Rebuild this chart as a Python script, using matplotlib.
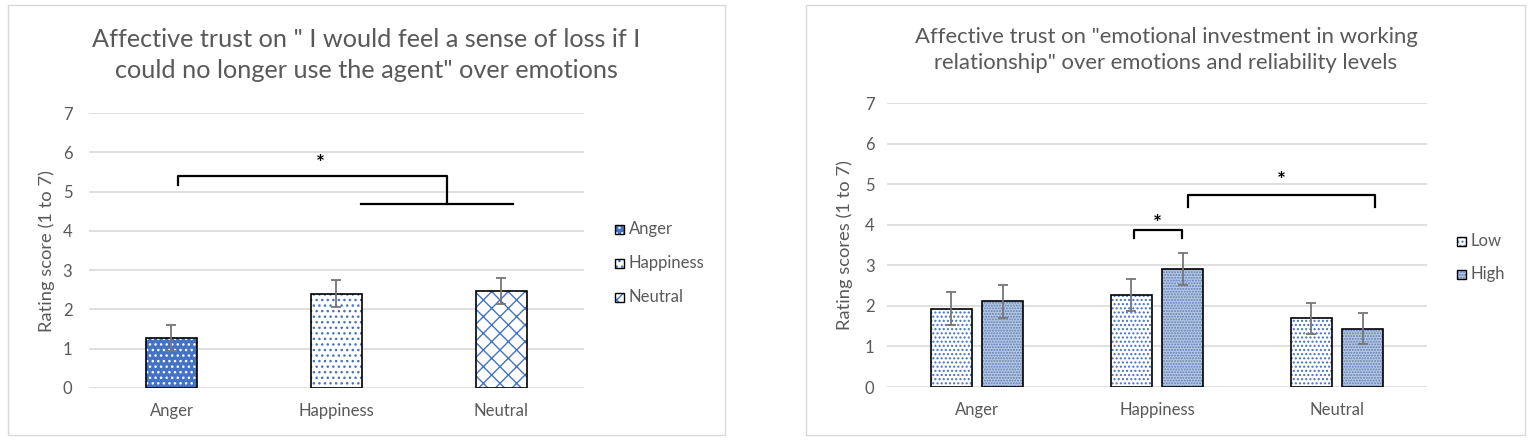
import matplotlib
matplotlib.use("Agg")
import matplotlib.pyplot as plt
import matplotlib.patches as mpatches
import numpy as np

plt.rcParams["font.family"] = ["Lato", "DejaVu Sans"]
plt.rcParams["hatch.linewidth"] = 1.0

# --- data ---
emotions = ["Anger", "Happiness", "Neutral"]

loss_means = [1.28, 2.40, 2.47]
loss_err = [0.33, 0.35, 0.34]

levels = ["Low", "High"]
invest_low = [1.93, 2.27, 1.69]
invest_low_err = [0.41, 0.39, 0.38]
invest_high = [2.11, 2.91, 1.44]
invest_high_err = [0.41, 0.39, 0.39]

# significance brackets (x in category units, y in rating units)
loss_bracket_top = [0.04, 1.67, 5.39]        # x0, x1, y
loss_bracket_drop = [5.17, 4.68]             # left end, right end
loss_bracket_low = [1.15, 2.07, 4.68]        # x0, x1, y
loss_star = [0.90, 5.70]

invest_brackets = [[0.87, 1.14, 3.88, 3.68], [1.17, 2.21, 4.74, 4.44]]
invest_stars = [[1.0, 4.02], [1.69, 5.08]]

TITLE_L = 'Affective trust on " I would feel a sense of loss if I\ncould no longer use the agent" over emotions'
TITLE_R = 'Affective trust on "emotional investment in working\nrelationship" over emotions and reliability levels'

TXT = "#595959"
GRID = "#D9D9D9"
BLUE = "#4472C4"
ERR = "#767676"
FS = 12

W, H = 1535, 443
fig = plt.figure(figsize=(W / 100, H / 100), dpi=100)


def fx(px):
    return px / W


def fy(py):
    return 1 - py / H


# panel frames
for x0, x1 in [(8, 725), (806, 1525)]:
    fig.patches.append(mpatches.Rectangle(
        (fx(x0), fy(435)), fx(x1 - x0), (435 - 5) / H, transform=fig.transFigure,
        facecolor="none", edgecolor=GRID, linewidth=1.0, zorder=-1))


def style_axes(ax, ylabel, tickpad, labelx):
    ax.set_ylim(0, 7)
    ax.set_yticks(range(8))
    ax.yaxis.grid(True, color=GRID, linewidth=1.2)
    ax.set_axisbelow(True)
    for s in ax.spines.values():
        s.set_visible(False)
    ax.tick_params(axis="both", length=0, colors=TXT, labelsize=FS)
    ax.tick_params(axis="y", pad=tickpad)
    ax.tick_params(axis="x", pad=11)
    ax.set_ylabel(ylabel, color=TXT, fontsize=13.2)
    ax.yaxis.set_label_coords(labelx, 0.5)
    ax.set_facecolor("none")


def hatched_bar(ax, x, h, width, face, hatch, hcolor):
    ax.bar(x, h, width, color=face, edgecolor=hcolor, hatch=hatch,
           linewidth=0, zorder=2)
    ax.bar(x, h, width, color="none", edgecolor="black", linewidth=1.2,
           zorder=3)


def legend_entry(px, py, face, hatch, hc, label):
    box = (fx(px), fy(py + 4.5))
    fig.patches.append(mpatches.Rectangle(
        box, fx(9), 9 / H, transform=fig.transFigure,
        facecolor=face, edgecolor=hc, hatch=hatch, linewidth=0, zorder=3))
    fig.patches.append(mpatches.Rectangle(
        box, fx(9), 9 / H, transform=fig.transFigure,
        facecolor="none", edgecolor="black", linewidth=1.0, zorder=4))
    fig.text(fx(px + 14), fy(py), label, ha="left", va="center",
             fontsize=FS, color=TXT)


# --- left chart ---
axL = fig.add_axes([fx(89), fy(388), fx(584 - 89), (388 - 113) / H])
x = np.arange(len(emotions))
left_styles = [(BLUE, "...", "white"), ("white", "...", BLUE), ("white", "xx", BLUE)]
for i, (face, hatch, hc) in enumerate(left_styles):
    hatched_bar(axL, x[i], loss_means[i], 0.315, face, hatch, hc)
axL.errorbar(x, loss_means, yerr=loss_err, fmt="none", ecolor=ERR,
             elinewidth=1.3, capsize=3.3, capthick=1.3, zorder=4)
axL.set_xlim(-0.5, 2.5)
axL.set_xticks(x, emotions)
style_axes(axL, "Rating score (1 to 7)", 12, -0.069)

bx0, bx1, by = loss_bracket_top
axL.plot([bx0, bx0, bx1, bx1], [loss_bracket_drop[0], by, by, loss_bracket_drop[1]],
         color="black", linewidth=1.6, zorder=5, clip_on=False)
lx0, lx1, ly = loss_bracket_low
axL.plot([lx0, lx1], [ly, ly], color="black", linewidth=1.6, zorder=5)
axL.text(loss_star[0], loss_star[1], "*", ha="center", va="center",
         fontsize=15, fontweight="bold", color="black")

fig.text(fx(366), fy(55), TITLE_L, ha="center", va="center", fontsize=18.2,
         color=TXT, linespacing=1.4)

for i, (face, hatch, hc) in enumerate(left_styles):
    legend_entry(615, [229, 263, 297][i], face, hatch, hc, emotions[i])

# --- right chart ---
axR = fig.add_axes([fx(887), fy(387), fx(1427 - 887), (387 - 103) / H])
off = 0.142
bw = 0.223
right_styles = [("white", "....", BLUE), ("#B9C9E2", "......", "#5E7FB8")]
for i in range(len(emotions)):
    hatched_bar(axR, x[i] - off, invest_low[i], bw, *right_styles[0])
    hatched_bar(axR, x[i] + off, invest_high[i], bw, *right_styles[1])
axR.errorbar(x - off, invest_low, yerr=invest_low_err, fmt="none", ecolor=ERR,
             elinewidth=1.3, capsize=3.3, capthick=1.3, zorder=4)
axR.errorbar(x + off, invest_high, yerr=invest_high_err, fmt="none", ecolor=ERR,
             elinewidth=1.3, capsize=3.3, capthick=1.3, zorder=4)
axR.set_xlim(-0.5, 2.5)
axR.set_xticks(x, emotions)
style_axes(axR, "Rating scores (1 to 7)", 9, -0.063)

for (b0, b1, btop, bend), (sx, sy) in zip(invest_brackets, invest_stars):
    axR.plot([b0, b0, b1, b1], [bend, btop, btop, bend], color="black",
             linewidth=1.6, zorder=5)
    axR.text(sx, sy, "*", ha="center", va="center", fontsize=15,
             fontweight="bold", color="black")

fig.text(fx(1166), fy(50), TITLE_R, ha="center", va="center", fontsize=15.9,
         color=TXT, linespacing=1.38)

for i, (face, hatch, hc) in enumerate(right_styles):
    legend_entry(1457, [241, 274][i], face, hatch, hc, levels[i])

fig.savefig("out.png", dpi=100)
